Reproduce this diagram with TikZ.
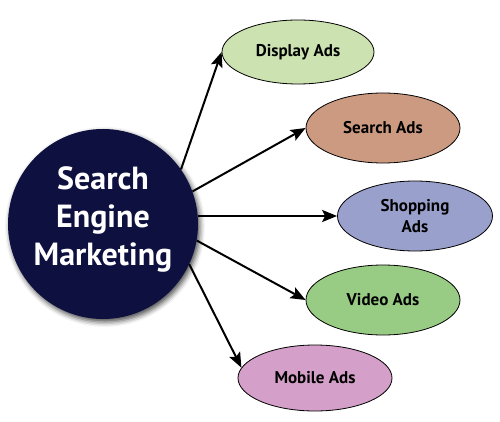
\documentclass[tikz,border=0pt]{standalone}
\usepackage{fontspec}
\setmainfont{PT Sans}
\usetikzlibrary{shapes.geometric,arrows.meta,shadows.blur}
\definecolor{navy}{HTML}{0E1140}
\definecolor{cdisp}{HTML}{CCE2B0}
\definecolor{csearch}{HTML}{CC9A80}
\definecolor{cshop}{HTML}{9AA0CC}
\definecolor{cvideo}{HTML}{98CC84}
\definecolor{cmobile}{HTML}{D49FC8}
\tikzset{
  hub/.style={circle, fill=navy, minimum size=190pt, inner sep=0pt,
    blur shadow={shadow xshift=2pt, shadow yshift=-3pt, shadow blur radius=5pt, shadow opacity=70}},
  hubtext/.style={text=white, font=\fontsize{32}{38}\selectfont\bfseries, align=center, inner sep=0pt},
  leaf/.style={ellipse, draw=black, line width=0.8pt, minimum width=154pt, minimum height=68pt,
    inner sep=0pt, font=\fontsize{17}{21}\selectfont\bfseries, align=center},
  arr/.style={draw=black, line width=2pt, -{Stealth[length=15pt,width=12pt,inset=3pt]}}
}
\begin{document}
\begin{tikzpicture}[x=1pt,y=-1pt]
\useasboundingbox (0,0) rectangle (500,422);
\node[hub] (sem) at (103,224) {};
\node[hubtext] (semtext) at ([yshift=5pt]sem.center) {Search\\Engine\\Marketing};
\node[leaf, fill=cdisp, minimum width=152pt, minimum height=64pt] (disp) at (298,52) {Display Ads};
\node[leaf, fill=csearch, minimum height=70pt] (srch) at (383,128) {Search Ads};
\node[leaf, fill=cshop, minimum width=155pt, minimum height=70pt] (shop) at (415,216) {Shopping\\Ads};
\node[leaf, fill=cvideo, minimum height=70pt] (video) at (383,300) {Video Ads};
\node[leaf, fill=cmobile, minimum height=66pt] (mob) at (315,378) {Mobile Ads};
\draw[arr] (sem.35) -- (disp.west);
\draw[arr] (sem.20) -- (srch.west);
\draw[arr] (sem.east |- shop.west) -- (shop.west);
\draw[arr] (sem.-10) -- (video.west);
\draw[arr] (sem.-25) -- (mob.172);
\end{tikzpicture}
\end{document}
